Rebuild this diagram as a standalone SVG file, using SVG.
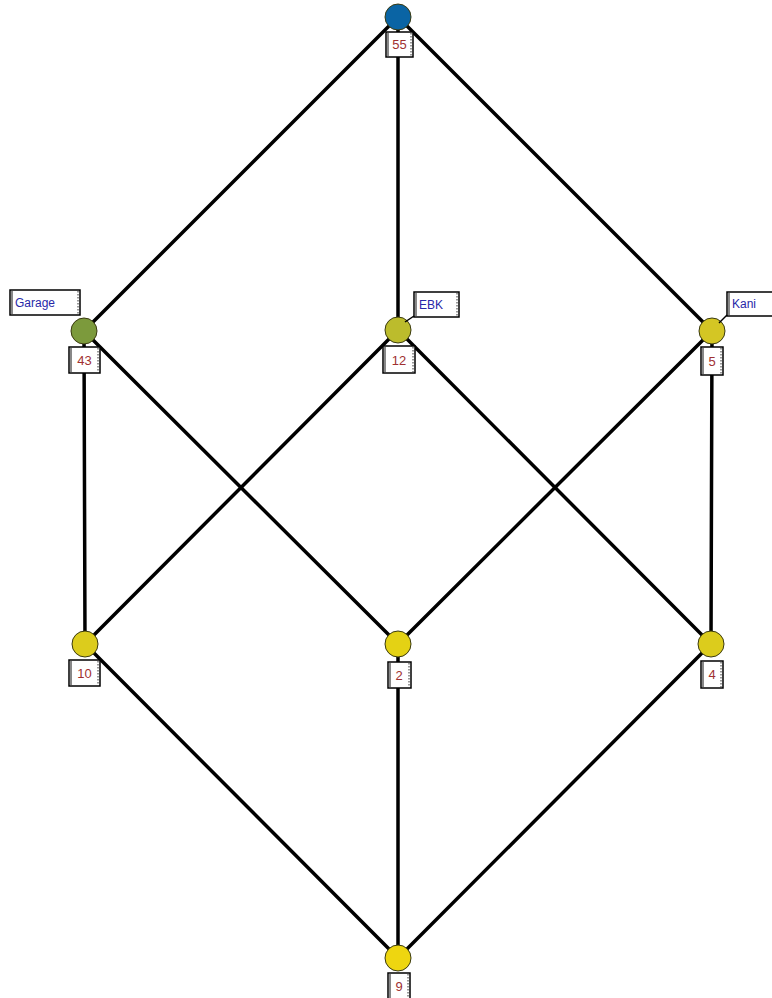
<svg xmlns="http://www.w3.org/2000/svg" width="772" height="998" viewBox="0 0 772 998">
<style>
.edge{stroke:#000;stroke-width:3.5;fill:none;stroke-linecap:round}
.node{stroke:#3a3a10;stroke-width:1}
.box{fill:#fff;stroke:#000;stroke-width:1.5}
.side{stroke:#888;stroke-width:2}
.tick{stroke:#999;stroke-width:2;stroke-dasharray:1.5 1.5}
.num{font-family:"Liberation Sans",Arial,sans-serif;font-size:13px;fill:#a03030;text-anchor:middle}
.name{font-family:"Liberation Sans",Arial,sans-serif;font-size:12px;fill:#2828a8}
.lead{stroke:#000;stroke-width:1.5}
</style>
<rect width="772" height="998" fill="#fff"/>
<g id="connectors">
<line class="edge" x1="398" y1="17" x2="84" y2="331"/>
<line class="edge" x1="398" y1="17" x2="398" y2="330"/>
<line class="edge" x1="398" y1="17" x2="712" y2="331"/>
<line class="edge" x1="84" y1="331" x2="85" y2="644"/>
<line class="edge" x1="84" y1="331" x2="398" y2="644"/>
<line class="edge" x1="398" y1="330" x2="85" y2="644"/>
<line class="edge" x1="398" y1="330" x2="711" y2="644"/>
<line class="edge" x1="712" y1="331" x2="398" y2="644"/>
<line class="edge" x1="712" y1="331" x2="711" y2="644"/>
<line class="edge" x1="85" y1="644" x2="398" y2="958"/>
<line class="edge" x1="398" y1="644" x2="398" y2="958"/>
<line class="edge" x1="711" y1="644" x2="398" y2="958"/>
</g>
<g id="n55">
<circle class="node" cx="398" cy="17" r="13" fill="#0a64a4"/>
<rect class="box" x="386" y="32" width="27" height="25"/>
<line class="side" x1="388" y1="33" x2="388" y2="56"/><line class="tick" x1="411" y1="33" x2="411" y2="56"/>
<text class="num" x="399.5" y="49">55</text>
</g>
<g id="n43">
<circle class="node" cx="84" cy="331" r="13" fill="#7c9a3c"/>
<rect class="box" x="10" y="290" width="70" height="25"/>
<line class="side" x1="12" y1="291" x2="12" y2="314"/><line class="tick" x1="78" y1="291" x2="78" y2="314"/>
<text class="name" x="15" y="307">Garage</text>
<rect class="box" x="69" y="347" width="31" height="26"/>
<line class="side" x1="71" y1="348" x2="71" y2="372"/><line class="tick" x1="98" y1="348" x2="98" y2="372"/>
<text class="num" x="84.5" y="365">43</text>
</g>
<g id="n12">
<circle class="node" cx="398" cy="330" r="13" fill="#bcbc2c"/>
<line class="lead" x1="405" y1="322" x2="414" y2="316"/>
<rect class="box" x="414" y="292" width="45" height="25"/>
<line class="side" x1="416" y1="293" x2="416" y2="316"/><line class="tick" x1="457" y1="293" x2="457" y2="316"/>
<text class="name" x="419" y="309">EBK</text>
<rect class="box" x="383" y="346" width="32" height="27"/>
<line class="side" x1="385" y1="347" x2="385" y2="372"/><line class="tick" x1="413" y1="347" x2="413" y2="372"/>
<text class="num" x="399" y="365">12</text>
</g>
<g id="n5">
<circle class="node" cx="712" cy="331" r="13" fill="#d4c624"/>
<line class="lead" x1="719" y1="323" x2="727" y2="315"/>
<rect class="box" x="727" y="292" width="70" height="24"/>
<line class="side" x1="729" y1="293" x2="729" y2="315"/>
<text class="name" x="732" y="308">Kani</text>
<rect class="box" x="701" y="347" width="22" height="28"/>
<line class="side" x1="703" y1="348" x2="703" y2="374"/><line class="tick" x1="721" y1="348" x2="721" y2="374"/>
<text class="num" x="712" y="366">5</text>
</g>
<g id="n10">
<circle class="node" cx="85" cy="644" r="13" fill="#dccc1c"/>
<rect class="box" x="69" y="660" width="31" height="26"/>
<line class="side" x1="71" y1="661" x2="71" y2="685"/><line class="tick" x1="98" y1="661" x2="98" y2="685"/>
<text class="num" x="84.5" y="678">10</text>
</g>
<g id="n2">
<circle class="node" cx="398" cy="644" r="13" fill="#e4d214"/>
<rect class="box" x="388" y="662" width="23" height="26"/>
<line class="side" x1="390" y1="663" x2="390" y2="687"/><line class="tick" x1="409" y1="663" x2="409" y2="687"/>
<text class="num" x="399" y="680">2</text>
</g>
<g id="n4">
<circle class="node" cx="711" cy="644" r="13" fill="#dccc1c"/>
<rect class="box" x="701" y="661" width="22" height="27"/>
<line class="side" x1="703" y1="662" x2="703" y2="687"/><line class="tick" x1="721" y1="662" x2="721" y2="687"/>
<text class="num" x="712" y="679">4</text>
</g>
<g id="n9">
<circle class="node" cx="398" cy="958" r="13" fill="#eed610"/>
<rect class="box" x="388" y="973" width="22" height="27"/>
<line class="side" x1="390" y1="974" x2="390" y2="998"/><line class="tick" x1="408" y1="974" x2="408" y2="998"/>
<text class="num" x="399" y="991">9</text>
</g>
</svg>
